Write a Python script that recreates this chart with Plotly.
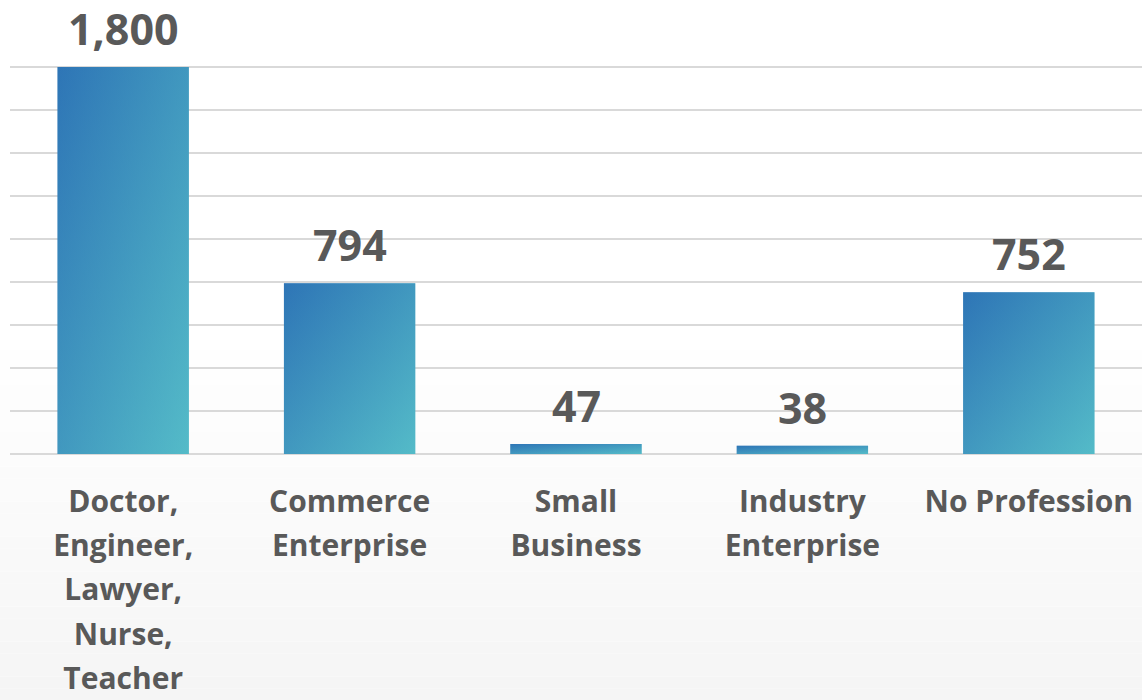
import plotly.graph_objects as go

# Respondents by profession
categories = [
    "Doctor,<br>Engineer,<br>Lawyer,<br>Nurse,<br>Teacher",
    "Commerce<br>Enterprise",
    "Small<br>Business",
    "Industry<br>Enterprise",
    "No Profession",
]
values = [1800, 794, 47, 38, 752]
value_labels = ["1,800", "794", "47", "38", "752"]

BLUE = "rgb(46,117,182)"
TEAL = "rgb(84,187,200)"
BLUE_HALF = "rgba(46,117,182,0.5)"
TEAL_HALF = "rgba(84,187,200,0.5)"
TEXT = "#595959"
GRID = "#d9d9d9"
FONT = "Open Sans"
BAR_HALF = 0.29

fig = go.Figure()

# Light vertical fade of the chart background
n_bands = 60
for k in range(n_bands):
    t0 = k / n_bands
    t1 = (k + 1) / n_bands
    # paper coordinates spanning the whole page (plot area + margins)
    y0 = -246 / 430 + t0 * (700 / 430)
    y1 = -246 / 430 + t1 * (700 / 430)
    frac = max(0.0, min(1.0, (0.52 - (t0 + t1) / 2) / 0.52))
    g = round(255 - 10 * frac)
    fig.add_shape(
        type="rect", xref="paper", yref="paper",
        x0=-0.02, x1=1.02, y0=y0, y1=y1,
        fillcolor=f"rgb({g},{g},{g})", line_width=0, layer="below",
    )

# Bars: horizontal gradient underneath, half-transparent vertical gradient on top,
# which together give a diagonal blue-to-teal fade.
for i, v in enumerate(values):
    xs = [i - BAR_HALF, i + BAR_HALF, i + BAR_HALF, i - BAR_HALF, i - BAR_HALF]
    ys = [0, 0, v, v, 0]
    fig.add_trace(go.Scatter(
        x=xs, y=ys, mode="lines", fill="toself", line_width=0,
        fillgradient=dict(type="horizontal", colorscale=[[0, BLUE], [1, TEAL]]),
        hoverinfo="skip", showlegend=False,
    ))
    fig.add_trace(go.Scatter(
        x=xs, y=ys, mode="lines", fill="toself", line_width=0,
        fillgradient=dict(type="vertical", colorscale=[[0, TEAL_HALF], [1, BLUE_HALF]]),
        hoverinfo="skip", showlegend=False,
    ))
    fig.add_annotation(
        x=i, y=v, text=f"<b>{value_labels[i]}</b>", showarrow=False,
        yanchor="bottom", yshift=8, borderpad=0,
        font=dict(family=FONT, size=43, color=TEXT),
    )

tick_text = [
    "<br>".join(f"<span style='font-size:30px'><b>{line}</b></span>" for line in c.split("<br>"))
    for c in categories
]

fig.update_layout(
    width=1142, height=700,
    margin=dict(l=10, r=0, t=24, b=246),
    paper_bgcolor="rgba(0,0,0,0)",
    plot_bgcolor="rgba(0,0,0,0)",
    showlegend=False,
    xaxis=dict(
        range=[-0.5, 4.5], tickvals=list(range(len(categories))), ticktext=tick_text,
        showgrid=False, zeroline=False, showline=False, ticks="",
        tickfont=dict(family=FONT, size=34, color=TEXT), tickangle=0,
        ticklabelstandoff=23, automargin=False, fixedrange=True,
    ),
    yaxis=dict(
        range=[0, 2000], dtick=200, showgrid=True, gridcolor=GRID, gridwidth=2,
        zeroline=True, zerolinecolor=GRID, zerolinewidth=2,
        showticklabels=False, showline=False, ticks="", fixedrange=True,
    ),
)

fig.write_html("out.html")
